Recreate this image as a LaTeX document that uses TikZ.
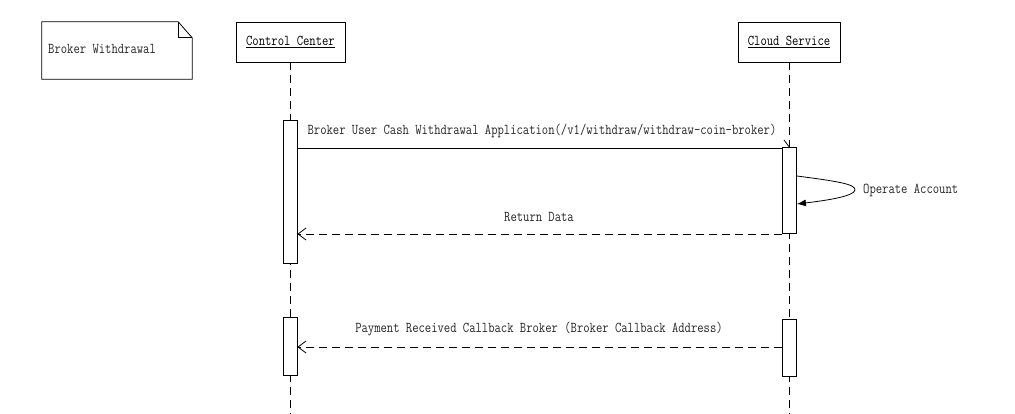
\documentclass[tikz,border=0pt]{standalone}
\usepackage{fontspec}
\newfontfamily\simfont[FakeStretch=0.82]{Latin Modern Mono}
\usetikzlibrary{arrows.meta,calc}
\tikzset{
  base/.style={line width=0.8pt, black},
  headbox/.style={base, draw, fill=white, minimum height=40pt, inner sep=0pt},
  actbar/.style={base, draw, fill=white, minimum width=14pt, inner sep=0pt},
  lifeline/.style={base, dash pattern=on 8pt off 5pt},
  syncmsg/.style={base, -{Straight Barb[length=6pt,width=16pt,line width=0.8pt]}},
  retmsg/.style={base, dash pattern=on 8pt off 5pt, -{Straight Barb[length=8pt,width=12pt,line width=0.8pt]}},
  selfmsg/.style={base, -{Latex[length=9pt,width=7pt]}},
  lbl/.style={inner sep=0pt, text=black!85},
}
\begin{document}
\begin{tikzpicture}[x=1pt,y=-1pt,font=\simfont\fontsize{15}{17}\selectfont]
\useasboundingbox (0,0) rectangle (1015,414);
% note
\node[inner sep=0pt, minimum width=150pt, minimum height=57pt] (note) at (117,50.5) {};
\draw[base] (note.north west) -- ($(note.north east)+(-14,0)$) -- ($(note.north east)+(0,16)$) -- (note.south east) -- (note.south west) -- cycle;
\draw[base] ($(note.north east)+(-14,0)$) -- ($(note.north east)+(-14,16)$) -- ($(note.north east)+(0,16)$);
\node[lbl, anchor=west] (notetxt) at (48,49) {Broker Withdrawal};
% heads
\node[headbox, minimum width=109pt] (cc) at (290.5,42) {\underline{Control Center}};
\node[headbox, minimum width=102pt] (cs) at (789,42) {\underline{Cloud Service}};
\coordinate (bot) at (0,414);
\draw[lifeline] (cc.south) -- (cc.south |- bot);
\draw[lifeline] (cs.south) -- (cs.south |- bot);
% coordinates for messages
\coordinate (m1) at (0,148);
\coordinate (m2) at (0,234);
\coordinate (m3) at (0,347);
% bars (first CC bar)
\node[actbar, minimum height=143pt] (a1) at (290,191.5) {};
% message 1 (drawn under the CS bar)
\coordinate (m1end) at ($(cs.south |- m1)+(1.5,0)$);
\draw[syncmsg] (a1.east |- m1) -- (m1end);
\node[lbl] (l1) at (542,131) {Broker User Cash Withdrawal Application(/v1/withdraw/withdraw-coin-broker)};
\node[actbar, minimum height=86pt] (a2) at (789.5,190) {};
% self message
\coordinate (s1) at ($(a2.east)+(0,-14)$);
\coordinate (s2) at ($(a2.east)+(0,14)$);
\draw[selfmsg] (s1) .. controls (835,181) and (856,184) .. (855,190) .. controls (854,196) and (830,200) .. (s2);
\node[lbl, anchor=west] (l2) at (863,190) {Operate Account};
% return
\draw[retmsg] (a2.west |- m2) -- (a1.east |- m2);
\node[lbl] (l3) at (539,217) {Return Data};
% second part
\node[actbar, minimum height=58pt] (a3) at (290,346) {};
\node[actbar, minimum height=57pt] (a4) at (789.5,347.5) {};
\draw[retmsg] (a4.west |- m3) -- (a3.east |- m3);
\node[lbl] (l4) at (539,329) {Payment Received Callback Broker (Broker Callback Address)};
\end{tikzpicture}
\end{document}
